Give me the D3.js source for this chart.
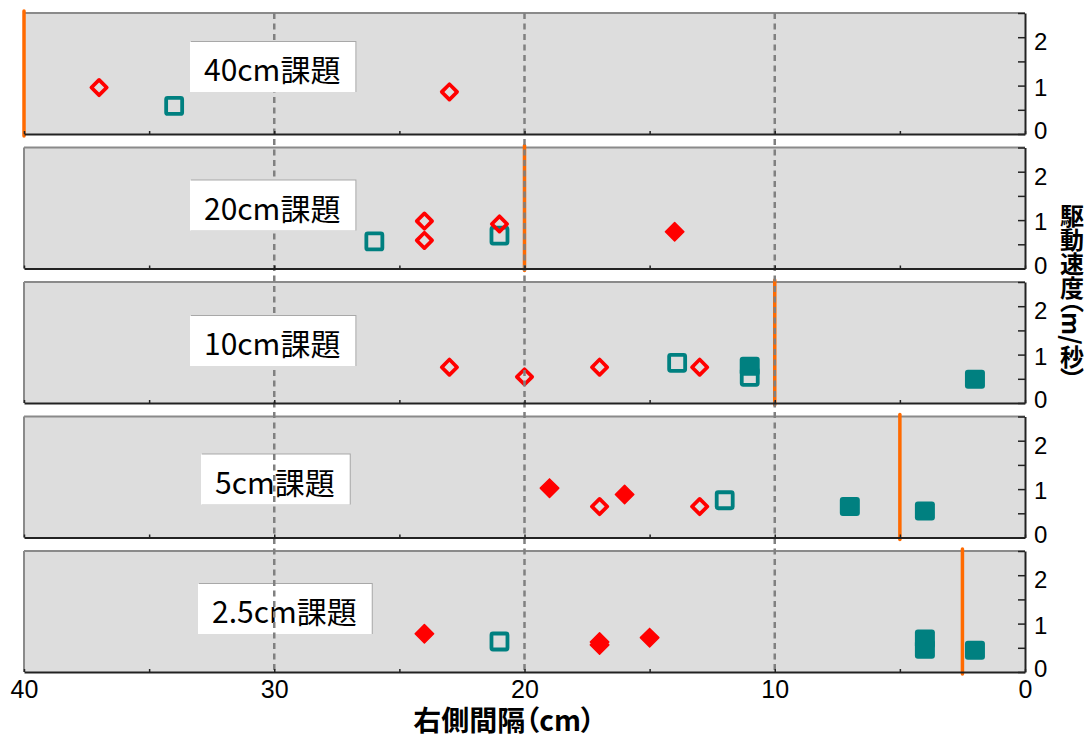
<!DOCTYPE html>
<html>
<head>
<meta charset="utf-8">
<script src="https://cdn.jsdelivr.net/npm/d3@7"></script>
<style>
  html, body { margin: 0; padding: 0; background: #fff; }
  svg { display: block; }
  .tick text { font-family: "Liberation Sans", Arial, sans-serif; fill: #000; }
  .jp { font-family: "Noto Sans CJK JP", sans-serif; }
</style>
</head>
<body>
<script>
const width = 1085
const height = 738

// panels, top to bottom
const panelNames = ['40cm課題', '20cm課題', '10cm課題', '5cm課題', '2.5cm課題']
const targetGap = [40, 20, 10, 5, 2.5]

// [panel, 右側間隔 cm, 駆動速度 m/s]
const tealOpen = [
    [0, 34, 0.58],
    [1, 26, 0.56], [1, 21, 0.68],
    [2, 13.9, 0.83], [2, 11, 0.54],
    [3, 12, 0.77],
    [4, 21, 0.63]
]
const tealFilled = [
    [2, 11, 0.76], [2, 2, 0.49],
    [3, 7, 0.64], [3, 4, 0.55],
    [4, 4, 0.68], [4, 4, 0.47], [4, 2, 0.45]
]
const redOpen = [
    [0, 37, 0.96], [0, 23, 0.87],
    [1, 24, 0.98], [1, 24, 0.58], [1, 21, 0.92],
    [2, 23, 0.74], [2, 20, 0.54], [2, 17, 0.74], [2, 13, 0.74],
    [3, 17, 0.64], [3, 13, 0.64]
]
const redFilled = [
    [1, 14, 0.76],
    [3, 19, 1.02], [3, 16, 0.89],
    [4, 24, 0.79], [4, 17, 0.62], [4, 17, 0.56], [4, 15, 0.71]
]

const xTicks = [0, 5, 10, 15, 20, 25, 30, 35, 40]
const xLabels = [0, 10, 20, 30, 40]
const gridLines = [30, 20, 10]
const yTicks = [0, 0.5, 1, 1.5, 2, 2.5]

// label box placement (left px, offset from panel top)
const boxLeft = [190, 190, 190, 201, 198]
const boxTop = [29, 33, 34, 38, 33]
const boxOverGrid = [true, true, true, false, false]

const panelH = 121
const panelStep = 134.5
const firstTop = 13

const teal = '#008080'
const red = '#ff0000'
const orange = '#ff6a00'

const x = d3.scaleLinear().domain([40, 0]).range([24, 1025])
const panelY = i => {
    const top = firstTop + i * panelStep
    return d3.scaleLinear().domain([0, 2.5]).range([top + panelH, top])
}
const ys = panelNames.map((d, i) => panelY(i))

const svg = d3.select('body').append('svg')
    .attr('width', width)
    .attr('height', height)

const panels = svg.append('g')
    .selectAll('g')
    .data(panelNames)
    .join('g')

panels.append('rect')
    .attr('x', x(40))
    .attr('y', (d, i) => ys[i].range()[1])
    .attr('width', x(0) - x(40))
    .attr('height', panelH)
    .attr('fill', '#dddddd')

panels.append('line')
    .attr('x1', x(40)).attr('x2', x(0))
    .attr('y1', (d, i) => ys[i].range()[1])
    .attr('y2', (d, i) => ys[i].range()[1])
    .attr('stroke', '#8a8a8a')
    .attr('stroke-width', 2)

panels.append('line')
    .attr('x1', x(40)).attr('x2', x(40))
    .attr('y1', (d, i) => ys[i].range()[1])
    .attr('y2', (d, i) => ys[i].range()[0])
    .attr('stroke', '#8a8a8a')
    .attr('stroke-width', 2)

// target gap lines
panels.append('line')
    .attr('x1', (d, i) => x(targetGap[i]))
    .attr('x2', (d, i) => x(targetGap[i]))
    .attr('y1', (d, i) => ys[i].range()[1] - 2)
    .attr('y2', (d, i) => ys[i].range()[0] + 2)
    .attr('stroke', orange)
    .attr('stroke-width', 3.5)
    .attr('stroke-linecap', 'round')

const marks = svg.append('g')

marks.selectAll('.teal-open')
    .data(tealOpen)
    .join('rect')
    .attr('class', 'teal-open')
    .attr('x', d => x(d[1]) - 8)
    .attr('y', d => ys[d[0]](d[2]) - 8)
    .attr('width', 16)
    .attr('height', 16)
    .attr('rx', 1.5)
    .attr('fill', 'none')
    .attr('stroke', teal)
    .attr('stroke-width', 3.8)

marks.selectAll('.teal-filled')
    .data(tealFilled)
    .join('rect')
    .attr('class', 'teal-filled')
    .attr('x', d => x(d[1]) - 10)
    .attr('y', d => ys[d[0]](d[2]) - 9.5)
    .attr('width', 20)
    .attr('height', 19)
    .attr('rx', 3)
    .attr('fill', teal)

const diamond = size => d3.symbol(d3.symbolSquare, size)()

marks.selectAll('.red-open')
    .data(redOpen)
    .join('path')
    .attr('class', 'red-open')
    .attr('d', diamond(118))
    .attr('transform', d => `translate(${x(d[1])},${ys[d[0]](d[2])}) rotate(45)`)
    .attr('fill', 'none')
    .attr('stroke', red)
    .attr('stroke-width', 3.7)
    .attr('stroke-linejoin', 'round')

marks.selectAll('.red-filled')
    .data(redFilled)
    .join('path')
    .attr('class', 'red-filled')
    .attr('d', diamond(170))
    .attr('transform', d => `translate(${x(d[1])},${ys[d[0]](d[2])}) rotate(45)`)
    .attr('fill', red)
    .attr('stroke', red)
    .attr('stroke-width', 1.5)
    .attr('stroke-linejoin', 'round')

const drawBox = (g, i) => {
    const top = ys[i].range()[1] + boxTop[i]
    const box = g.append('g')
    const text = box.append('text')
        .attr('class', 'jp')
        .attr('x', boxLeft[i] + 14)
        .attr('y', top + 26)
        .attr('dominant-baseline', 'central')
        .attr('font-size', 30)
        .attr('fill', '#000')
        .text(panelNames[i])
    const w = text.node().getComputedTextLength() + 29
    box.insert('rect', 'text')
        .attr('x', boxLeft[i] + 1)
        .attr('y', top - 1)
        .attr('width', w)
        .attr('height', 51)
        .attr('fill', '#a8a8a8')
    box.insert('rect', 'text')
        .attr('x', boxLeft[i])
        .attr('y', top)
        .attr('width', w)
        .attr('height', 50)
        .attr('fill', '#fff')
}

const boxesUnder = svg.append('g')
panelNames.forEach((d, i) => { if (!boxOverGrid[i]) drawBox(boxesUnder, i) })

svg.append('g')
    .selectAll('line')
    .data(gridLines)
    .join('line')
    .attr('x1', d => x(d)).attr('x2', d => x(d))
    .attr('y1', ys[0].range()[1])
    .attr('y2', ys[4].range()[0])
    .attr('stroke', '#808080')
    .attr('stroke-width', 2.5)
    .attr('stroke-dasharray', '6,4.5')

const boxesOver = svg.append('g')
panelNames.forEach((d, i) => { if (boxOverGrid[i]) drawBox(boxesOver, i) })

// axes per panel
ys.forEach((y, i) => {
    const bottom = svg.append('g')
        .attr('transform', `translate(0,${y.range()[0]})`)
        .call(d3.axisBottom(x).tickValues(xTicks).tickSize(-3).tickSizeOuter(0).tickFormat(''))
    bottom.select('.domain').attr('stroke', '#222').attr('stroke-width', 2)
    bottom.selectAll('.tick line').attr('stroke', '#222').attr('stroke-width', 1.5)

    const right = svg.append('g')
        .attr('transform', `translate(${x(0)},0)`)
        .call(d3.axisRight(y).tickValues(yTicks).tickSize(-7).tickSizeOuter(0).tickPadding(9)
            .tickFormat(d => Number.isInteger(d) ? d : ''))
    right.select('.domain').attr('stroke', '#222').attr('stroke-width', 2)
    right.selectAll('.tick line').attr('stroke', '#222').attr('stroke-width', 1.5)
    // labels sit a little inside the panel edges, as in the original
    right.selectAll('.tick text')
        .attr('font-size', 24)
        .attr('y', d => d === 0 ? -3 : d === 2 ? 5 : 2)
})

const xAxis = svg.append('g')
    .attr('transform', `translate(0,${ys[4].range()[0]})`)
    .call(d3.axisBottom(x).tickValues(xLabels).tickSize(0).tickPadding(8))
xAxis.select('.domain').remove()
xAxis.selectAll('.tick text').attr('font-size', 25)

svg.append('text')
    .attr('class', 'jp')
    .attr('x', 504)
    .attr('y', 719)
    .attr('text-anchor', 'middle')
    .attr('dominant-baseline', 'central')
    .attr('font-size', 28)
    .attr('font-weight', 'bold')
    .style('font-feature-settings', '"palt"')
    .text('右側間隔（cm）')

svg.append('text')
    .attr('class', 'jp')
    .attr('x', 1072)
    .attr('y', 204)
    .attr('font-size', 24)
    .attr('font-weight', 'bold')
    .style('writing-mode', 'vertical-rl')
    .style('font-feature-settings', '"vpal"')
    .text('駆動速度（m/秒）')
</script>
</body>
</html>
